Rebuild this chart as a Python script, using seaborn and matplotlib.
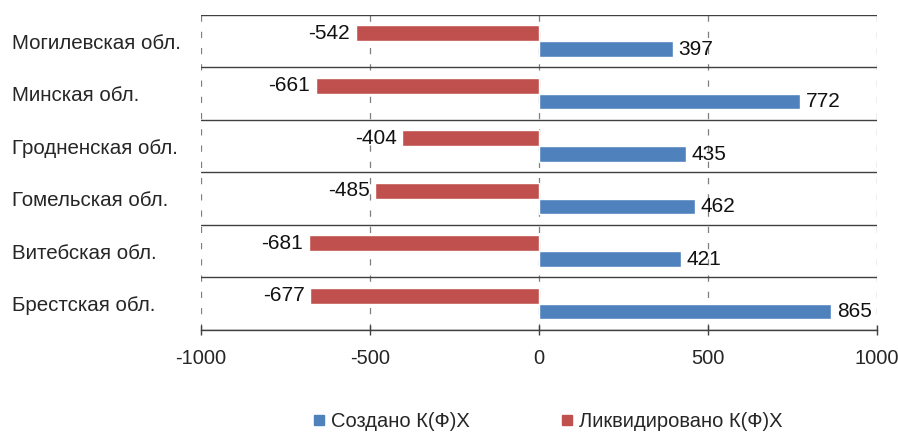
import matplotlib
matplotlib.use("Agg")
import matplotlib.pyplot as plt
from matplotlib.lines import Line2D
import seaborn as sns
import pandas as pd

regions = ["Могилевская обл.", "Минская обл.", "Гродненская обл.",
           "Гомельская обл.", "Витебская обл.", "Брестская обл."]
created = [397, 772, 435, 462, 421, 865]
liquidated = [-542, -661, -404, -485, -681, -677]
series_created = "Создано К(Ф)Х"
series_liquidated = "Ликвидировано К(Ф)Х"
x_ticks = [-1000, -500, 0, 500, 1000]

blue = "#4F81BD"
red = "#C0504D"

df = pd.DataFrame({
    "region": regions * 2,
    "value": liquidated + created,
    "series": [series_liquidated] * len(regions) + [series_created] * len(regions),
})

sns.set_theme(style="white")
plt.rcParams["font.family"] = ["Liberation Sans", "DejaVu Sans"]

DPI = 100
fig = plt.figure(figsize=(8.98, 4.33), dpi=DPI)
ax = fig.add_axes([0.2238, 0.2379, 0.7528, 0.7275])

sns.barplot(data=df, y="region", x="value", hue="series", orient="h",
            order=regions, hue_order=[series_liquidated, series_created],
            palette=[red, blue], width=0.6, dodge=True, saturation=1,
            legend=False, ax=ax)

for container in ax.containers:
    ax.bar_label(container, fmt="%d", padding=4, fontsize=15, color="#111111")

ax.set_xlim(-1000, 1000)
ax.set_ylim(len(regions) - 0.5, -0.5)
ax.set_xticks(x_ticks)
ax.set_xticklabels([str(t) for t in x_ticks], fontsize=14.5)
ax.set_xlabel("")
ax.set_ylabel("")

# vertical dashed grid at each x tick
for t in x_ticks:
    ax.axvline(t, color="#7f7f7f", lw=0.9, ls=(0, (5, 8)), zorder=0)
# solid separators between regions
for i in range(len(regions) + 1):
    ax.axhline(i - 0.5, color="#404040", lw=1.0, zorder=0.5)

for s in ["top", "right", "left"]:
    ax.spines[s].set_visible(False)
ax.spines["bottom"].set_color("#404040")
ax.spines["bottom"].set_linewidth(1.0)

ax.tick_params(axis="x", direction="inout", length=7, width=1.0,
               color="#404040", pad=10.5, bottom=True)
# region names start near the left figure edge
left_px = 0.2238 * 8.98 * DPI - 12
ax.tick_params(axis="y", length=0, pad=left_px * 72 / DPI, labelsize=14.8)
for lbl in ax.get_yticklabels():
    lbl.set_horizontalalignment("left")

handles = [
    Line2D([], [], marker="s", ls="none", markersize=7.5,
           markerfacecolor=blue, markeredgecolor=blue, label=series_created),
    Line2D([], [], marker="s", ls="none", markersize=7.5,
           markerfacecolor=red, markeredgecolor=red, label=series_liquidated),
]
fig.legend(handles=handles, loc="center left", bbox_to_anchor=(0.3274, 0.026),
           ncol=2, frameon=False, fontsize=14.5, handletextpad=0.25,
           columnspacing=4.45, handlelength=0.7)

fig.savefig("out.png", dpi=DPI)
